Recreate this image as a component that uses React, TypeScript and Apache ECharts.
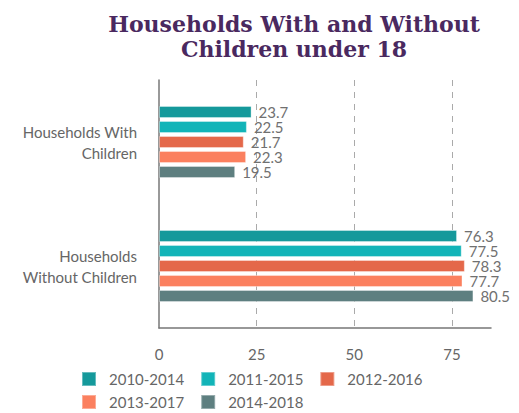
import React, { useEffect, useRef } from "react";
import * as echarts from "echarts";

const categories = ["Households With\nChildren", "Households\nWithout Children"];
const seriesNames = ["2010-2014", "2011-2015", "2012-2016", "2013-2017", "2014-2018"];
const seriesValues = [
  [23.7, 76.3],
  [22.5, 77.5],
  [21.7, 78.3],
  [22.3, 77.7],
  [19.5, 80.5],
];
const colors = ["#15999b", "#12b4b8", "#e4684a", "#fb805f", "#5e7f80"];

export default function App() {
  const ref = useRef<HTMLDivElement>(null);
  useEffect(() => {
    const chart = echarts.init(ref.current!, null, { renderer: "svg" });
    const legendBase = {
      left: 81,
      padding: 0,
      itemWidth: 14,
      itemHeight: 14,
      itemGap: 16,
      icon: "rect",
      orient: "horizontal",
      textStyle: { fontFamily: "Lato", fontSize: 15, color: "#666", width: 104, padding: [0, 0, 0, 8] },
    };
    chart.setOption({
      animation: false,
      color: colors,
      title: {
        text: "Households With and Without\nChildren under 18",
        left: 289,
        top: 6,
        textAlign: "center",
        textStyle: {
          fontFamily: "DejaVu Serif",
          fontWeight: "bold",
          fontSize: 22,
          lineHeight: 25,
          color: "#4a2960",
        },
      },
      grid: { left: 159, right: 28, top: 80, bottom: 85 },
      xAxis: {
        type: "value",
        min: 0,
        max: 85,
        interval: 25,
        axisLine: { show: true, lineStyle: { color: "#777", width: 1.5 } },
        axisTick: { show: false },
        axisLabel: {
          showMaxLabel: false,
          margin: 18,
          fontFamily: "Lato",
          fontSize: 15,
          color: "#666",
        },
        splitLine: {
          show: true,
          showMinLine: false,
          showMaxLine: false,
          lineStyle: { type: [6, 6], color: "#aaa", width: 1 },
        },
      },
      yAxis: {
        type: "category",
        data: categories,
        inverse: true,
        axisLine: { show: true, lineStyle: { color: "#777", width: 1.5 } },
        axisTick: { show: false },
        axisLabel: {
          margin: 22,
          fontFamily: "Lato",
          fontSize: 15,
          lineHeight: 21,
          color: "#666",
          align: "right",
        },
      },
      legend: [
        { ...legendBase, top: 371, data: seriesNames.slice(0, 3) },
        { ...legendBase, top: 394, data: seriesNames.slice(3) },
      ],
      series: seriesNames.map((name, i) => ({
        name,
        type: "bar",
        data: seriesValues[i],
        barWidth: 12,
        barGap: "25%",
        itemStyle: { borderColor: "rgba(255,255,255,0.35)", borderWidth: 1 },
        label: {
          show: true,
          position: "right",
          distance: 7,
          fontFamily: "Lato",
          fontSize: 15,
          color: "#707070",
        },
      })),
    });
    return () => chart.dispose();
  }, []);
  return <div ref={ref} style={{ width: 519, height: 413, position: "absolute", left: 0, top: 0 }} />;
}
